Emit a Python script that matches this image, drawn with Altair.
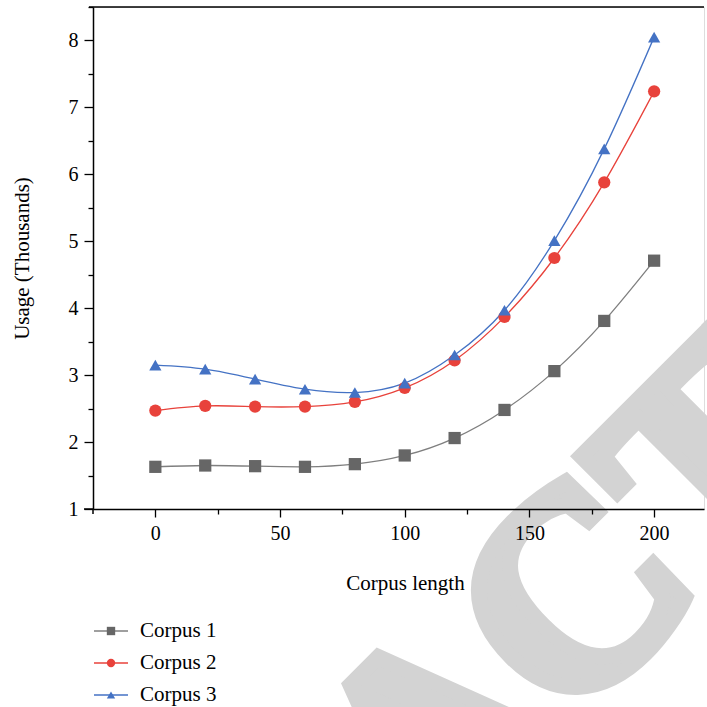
import altair as alt
import pandas as pd

# ---- data ----
x_vals = [0, 20, 40, 60, 80, 100, 120, 140, 160, 180, 200]
corpus1 = [1.63, 1.65, 1.64, 1.63, 1.67, 1.80, 2.06, 2.48, 3.06, 3.81, 4.71]
corpus2 = [2.47, 2.54, 2.53, 2.53, 2.60, 2.81, 3.22, 3.87, 4.75, 5.88, 7.24]
corpus3 = [3.15, 3.09, 2.94, 2.79, 2.74, 2.88, 3.30, 3.97, 5.01, 6.38, 8.05]
series_names = ["Corpus 1", "Corpus 2", "Corpus 3"]
marker_colors = ["#666666", "#e8423b", "#4472c4"]
line_colors = ["#7f7f7f", "#e8423b", "#4472c4"]
shapes = ["square", "circle", "triangle-up"]
x_ticks = [0, 25, 50, 75, 100, 125, 150, 175, 200]
y_ticks = [1, 1.5, 2, 2.5, 3, 3.5, 4, 4.5, 5, 5.5, 6, 6.5, 7, 7.5, 8, 8.5]
watermark_text = ["RETRACTED"]

W, H = 611, 502
FONT = "Liberation Serif"

df = pd.DataFrame({
    "x": x_vals * 3,
    "value": corpus1 + corpus2 + corpus3,
    "series": [s for s in series_names for _ in x_vals],
})
leg = pd.DataFrame({"series": series_names})
wm = pd.DataFrame({"t": watermark_text})

xscale = alt.Scale(domain=[-25, 220], nice=False, zero=False)
yscale = alt.Scale(domain=[1, 8.5], nice=False, zero=False)

x_axis = alt.Axis(
    values=x_ticks, title="Corpus length", format="d",
    labelExpr="datum.value % 50 === 0 ? datum.label : ''",
    tickSize={"condition": {"test": "datum.value % 50 === 0", "value": 8}, "value": 5},
    grid=False, domainColor="black", domainWidth=1.5, tickColor="black", tickWidth=1.3,
    labelFont=FONT, labelFontSize=20, labelColor="black", labelPadding=6,
    titleFont=FONT, titleFontSize=21, titleFontWeight="normal", titleColor="black",
    titlePadding=29, titleX=312, zindex=1,
)
y_axis = alt.Axis(
    values=y_ticks, title="Usage (Thousands)", format=".0f",
    labelExpr="datum.value % 1 === 0 ? datum.label : ''",
    tickSize={"condition": {"test": "datum.value % 1 === 0", "value": 9}, "value": 5},
    grid=False, domainColor="black", domainWidth=1.5, tickColor="black", tickWidth=1.3,
    labelFont=FONT, labelFontSize=20, labelColor="black", labelPadding=6,
    titleFont=FONT, titleFontSize=21, titleFontWeight="normal", titleColor="black",
    titlePadding=36, zindex=1,
)

color_m = alt.Scale(domain=series_names, range=marker_colors)
color_l = alt.Scale(domain=series_names, range=line_colors)
shape_s = alt.Scale(domain=series_names, range=shapes)

watermark = alt.Chart(wm).mark_text(
    font="Liberation Sans Narrow", fontWeight="bold", fontSize=278, color="#d3d3d3",
    stroke="#d3d3d3", strokeWidth=16, strokeJoin="miter",
    angle=315, align="center", baseline="alphabetic",
).encode(text="t:N", x=alt.value(401), y=alt.value(794))

top_border = alt.Chart(wm).mark_rule(color="black", strokeWidth=1.5).encode(
    x=alt.value(-4), x2=alt.value(W), y=alt.value(0))
x_ext = alt.Chart(wm).mark_rule(color="black", strokeWidth=1.5).encode(
    x=alt.value(-9), x2=alt.value(0), y=alt.value(H))
y_ext = alt.Chart(wm).mark_rule(color="black", strokeWidth=1.5).encode(
    x=alt.value(0), y=alt.value(H), y2=alt.value(H + 5))

lines = alt.Chart(df).mark_line(interpolate="natural", strokeWidth=1.3).encode(
    x=alt.X("x:Q", scale=xscale, axis=x_axis),
    y=alt.Y("value:Q", scale=yscale, axis=y_axis),
    stroke=alt.Stroke("series:N", scale=color_l, legend=None),
    detail="series:N",
)
points = alt.Chart(df).mark_point(filled=True, opacity=1, size=150, strokeWidth=0).encode(
    x=alt.X("x:Q", scale=xscale),
    y=alt.Y("value:Q", scale=yscale, axis=None),
    color=alt.Color("series:N", scale=color_m, legend=None),
    shape=alt.Shape("series:N", scale=shape_s, legend=None),
)

leg_y = alt.Y("series:N", scale=alt.Scale(type="point", domain=series_names, range=[624, 688], padding=0), axis=None)
leg_rule = alt.Chart(leg).mark_rule(strokeWidth=1.3).encode(
    x=alt.value(1), x2=alt.value(35), y=leg_y,
    color=alt.Color("series:N", scale=color_l, legend=None),
)
leg_pts = alt.Chart(leg).mark_point(filled=True, opacity=1, size=70, strokeWidth=0).encode(
    x=alt.value(18), y=leg_y,
    color=alt.Color("series:N", scale=color_m, legend=None),
    shape=alt.Shape("series:N", scale=shape_s, legend=None),
)
leg_txt = alt.Chart(leg).mark_text(
    font=FONT, fontSize=21, color="black", align="left", baseline="middle",
).encode(x=alt.value(47), y=leg_y, text="series:N")

chart = alt.layer(
    watermark, top_border, x_ext, y_ext, lines, points, leg_rule, leg_pts, leg_txt
).resolve_scale(
    y="independent", color="independent"
).properties(
    width=W, height=H,
    autosize=alt.AutoSizeParams(type="none"),
    padding={"left": 93, "top": 7, "right": 3, "bottom": 198},
).configure_view(stroke=None).configure(background="white")

chart.save("out.html", embed_options={"renderer": "svg", "actions": False})
